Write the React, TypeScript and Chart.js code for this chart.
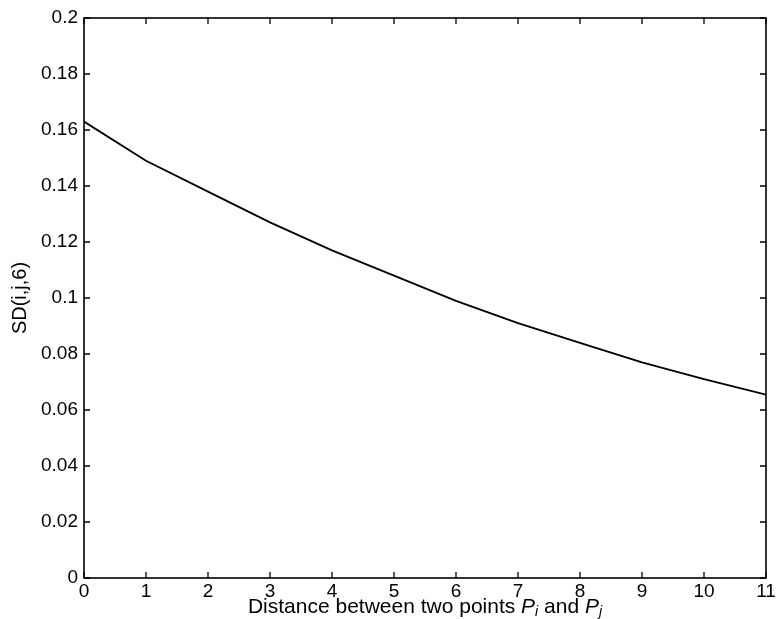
import React, { useEffect, useRef } from "react";
import { Chart, registerables } from "chart.js";

Chart.register(...registerables);

const distances = [0, 1, 2, 3, 4, 5, 6, 7, 8, 9, 10, 11];
const sdValues = [0.163, 0.149, 0.138, 0.127, 0.117, 0.108, 0.099, 0.091, 0.084, 0.077, 0.071, 0.0655];
const xTickValues = [0, 1, 2, 3, 4, 5, 6, 7, 8, 9, 10, 11];
const yTickValues = [0, 0.02, 0.04, 0.06, 0.08, 0.1, 0.12, 0.14, 0.16, 0.18, 0.2];
const yTickLabels = ["0", "0.02", "0.04", "0.06", "0.08", "0.1", "0.12", "0.14", "0.16", "0.18", "0.2"];
const yTitle = "SD(i,j,6)";
const xTitleParts = [
  { text: "Distance between two points ", italic: false, sub: false },
  { text: "P", italic: true, sub: false },
  { text: "i", italic: true, sub: true },
  { text: " and ", italic: false, sub: false },
  { text: "P", italic: true, sub: false },
  { text: "j", italic: true, sub: true },
];

const FONT = "'Liberation Sans', Arial, sans-serif";

const framePlugin = {
  id: "matlabFrame",
  afterDraw(chart: any) {
    const { ctx, chartArea } = chart;
    const { left, right, top, bottom } = chartArea;
    const xs = chart.scales.x;
    const ys = chart.scales.y;
    ctx.save();
    ctx.strokeStyle = "#000";
    ctx.lineWidth = 1.6;
    ctx.strokeRect(left, top, right - left, bottom - top);
    ctx.lineWidth = 1.3;
    const tl = 6;
    ctx.beginPath();
    xTickValues.forEach((v) => {
      const px = xs.getPixelForValue(v);
      ctx.moveTo(px, bottom);
      ctx.lineTo(px, bottom - tl);
      ctx.moveTo(px, top);
      ctx.lineTo(px, top + tl);
    });
    yTickValues.forEach((v) => {
      const py = ys.getPixelForValue(v);
      ctx.moveTo(left, py);
      ctx.lineTo(left + tl, py);
      ctx.moveTo(right, py);
      ctx.lineTo(right - tl, py);
    });
    ctx.stroke();

    // y title
    ctx.fillStyle = "#000";
    ctx.save();
    ctx.translate(20, (top + bottom) / 2);
    ctx.rotate(-Math.PI / 2);
    ctx.font = `20px ${FONT}`;
    ctx.textAlign = "center";
    ctx.textBaseline = "middle";
    ctx.fillText(yTitle, 0, 0);
    ctx.restore();

    // x title with italic and subscripts
    const fontFor = (p: any) =>
      `${p.italic ? "italic " : ""}${p.sub ? 14 : 21}px ${FONT}`;
    let total = 0;
    const widths = xTitleParts.map((p) => {
      ctx.font = fontFor(p);
      const w = ctx.measureText(p.text).width;
      total += w;
      return w;
    });
    let x = (left + right) / 2 - total / 2;
    const baseY = 613;
    ctx.textAlign = "left";
    ctx.textBaseline = "alphabetic";
    xTitleParts.forEach((p, i) => {
      ctx.font = fontFor(p);
      ctx.fillText(p.text, x, p.sub ? baseY + 3 : baseY);
      x += widths[i];
    });
    ctx.restore();
  },
};

export default function App() {
  const canvasRef = useRef<HTMLCanvasElement | null>(null);

  useEffect(() => {
    document.body.style.margin = "0";
    const canvas = canvasRef.current;
    if (!canvas) return;
    const chart = new Chart(canvas, {
      type: "line",
      data: {
        datasets: [
          {
            data: distances.map((d, i) => ({ x: d, y: sdValues[i] })),
            borderColor: "#000",
            borderWidth: 1.8,
            pointRadius: 0,
            tension: 0,
            fill: false,
          },
        ],
      },
      options: {
        animation: false,
        responsive: false,
        devicePixelRatio: 1,
        layout: { padding: { left: 0, right: 13, top: 18, bottom: 0 } },
        plugins: {
          legend: { display: false },
          tooltip: { enabled: false },
        },
        scales: {
          x: {
            type: "linear",
            min: 0,
            max: 11,
            afterBuildTicks: (scale: any) => {
              scale.ticks = xTickValues.map((v) => ({ value: v }));
            },
            afterFit: (scale: any) => {
              scale.height = 41;
            },
            grid: { display: false, drawTicks: false },
            border: { display: false },
            ticks: {
              color: "#000",
              font: { family: FONT, size: 19 },
              padding: 2,
              maxRotation: 0,
              autoSkip: false,
              callback: (v: any) => String(v),
            },
          },
          y: {
            type: "linear",
            min: 0,
            max: 0.2,
            afterBuildTicks: (scale: any) => {
              scale.ticks = yTickValues.map((v) => ({ value: v }));
            },
            afterFit: (scale: any) => {
              scale.width = 84;
            },
            grid: { display: false, drawTicks: false },
            border: { display: false },
            ticks: {
              color: "#000",
              font: { family: FONT, size: 19 },
              padding: 6,
              autoSkip: false,
              callback: (_v: any, i: number) => yTickLabels[i],
            },
          },
        },
      },
      plugins: [framePlugin],
    });
    return () => chart.destroy();
  }, []);

  return (
    <div style={{ width: 779, height: 619, background: "#fff" }}>
      <canvas ref={canvasRef} width={779} height={619} style={{ display: "block" }} />
    </div>
  );
}
